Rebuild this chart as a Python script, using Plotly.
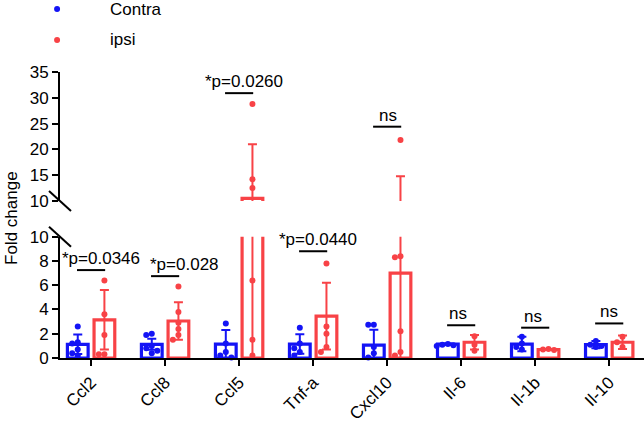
import plotly.graph_objects as go

FONT = "Arial, Liberation Sans, sans-serif"
BLUE = "rgb(20,20,245)"
RED = "rgb(248,66,70)"

categories = ["Ccl2", "Ccl8", "Ccl5", "Tnf-a", "Cxcl10", "Il-6", "Il-1b", "Il-10"]

contra_mean = [1.13, 1.13, 1.15, 1.15, 1.07, 1.15, 1.15, 1.10]
contra_sd = [0.80, 0.45, 1.15, 0.80, 1.25, 0.05, 0.60, 0.30]
ipsi_mean = [3.15, 3.05, 10.5, 3.45, 7.0, 1.30, 0.70, 1.30]
ipsi_sd = [2.45, 1.55, 10.5, 2.75, 7.8, 0.60, 0.05, 0.55]

contra_pts = [
    [2.6, 1.3, 1.2, 0.7, 0.4, 0.2],
    [2.0, 1.9, 1.0, 0.8, 0.6, 0.4],
    [2.85, 1.2, 0.5, 0.2, 0.05],
    [2.5, 1.2, 0.8, 0.5, 0.2],
    [2.75, 2.75, 0.9, 0.4, 0.05],
    [1.15, 1.1, 1.05, 1.0],
    [1.75, 1.2, 0.9, 0.7],
    [1.4, 1.1, 1.0, 0.9],
]
ipsi_pts = [
    [6.4, 3.6, 1.9, 0.3, 0.3],
    [5.9, 3.8, 2.9, 2.4, 1.9, 1.5],
    [28.8, 14.2, 12.5, 6.4, 1.5, 0.2],
    [7.8, 2.6, 2.0, 0.9, 0.5],
    [21.8, 8.4, 8.3, 2.2, 0.5, 0.2],
    [1.8, 1.1, 0.6],
    [0.75, 0.7, 0.65],
    [1.75, 1.3, 0.9],
]

sig_text = ["*p=0.0346", "*p=0.028", "*p=0.0260", "*p=0.0440", "ns", "ns", "ns", "ns"]
sig_y = [7.25, 6.75, 30.9, 8.8, 24.4, 2.7, 2.5, 2.85]

BREAK = 10
OFF = 0.18      # half distance between the two bars of a group
BAR_W = 0.28
LABEL_NUDGE = [10, 19, 5, 5, 1, -3, -2, 0]  # px, text placement over brackets


def to_px(v):
    # rough pixel height, only used to spread overlapping dots
    return 12.1 * v if v <= BREAK else 12.1 * BREAK + 36 + 5.16 * (v - BREAK)


def spread(vals, step=0.075, min_px=5.5):
    placed, out = [], []
    for v in vals:
        py = to_px(v)
        for c in (0, -step, step, -2 * step, 2 * step):
            if all(abs(py - pp) >= min_px or abs(c - oc) > step * 0.9 for pp, oc in placed):
                break
        placed.append((py, c))
        out.append(c)
    return out


fig = go.Figure()

series = [
    ("Contra", contra_mean, contra_sd, contra_pts, -OFF, BLUE),
    ("ipsi", ipsi_mean, ipsi_sd, ipsi_pts, OFF, RED),
]

for name, mean, sd, pts, off, col in series:
    xs = [i + off for i in range(len(categories))]
    for yax in ("y", "y2"):
        fig.add_trace(go.Bar(
            x=xs, y=mean, width=BAR_W, yaxis=yax, name=name, showlegend=False,
            marker=dict(color="rgba(0,0,0,0)", line=dict(color=col, width=3.2)),
            error_y=dict(type="data", array=sd, visible=True, color=col,
                         thickness=2, width=4.5),
            hoverinfo="skip",
        ))
    # dots, split by segment of the broken axis
    lo_x, lo_y, hi_x, hi_y = [], [], [], []
    for i, vals in enumerate(pts):
        for v, dx in zip(vals, spread(vals)):
            if v <= BREAK:
                lo_x.append(i + off + dx)
                lo_y.append(v)
            else:
                hi_x.append(i + off + dx)
                hi_y.append(v)
    for xx, yy, yax in ((lo_x, lo_y, "y"), (hi_x, hi_y, "y2")):
        fig.add_trace(go.Scatter(
            x=xx, y=yy, yaxis=yax, mode="markers", showlegend=False,
            marker=dict(color=col, size=6), cliponaxis=False,
        ))

# significance brackets
shapes, annots = [], []
for i, (txt, yv) in enumerate(zip(sig_text, sig_y)):
    yref = "y2" if yv > BREAK else "y"
    shapes.append(dict(type="line", xref="x", yref=yref, x0=i - 0.19, x1=i + 0.19,
                       y0=yv, y1=yv, line=dict(color="black", width=2)))
    annots.append(dict(x=i, y=yv, xref="x", yref=yref, text=txt, showarrow=False,
                       yanchor="bottom", xshift=LABEL_NUDGE[i],
                       font=dict(family=FONT, size=17, color="black")))

# axis break slashes
for yref, anchor in (("y domain", 1), ("y2 domain", 0)):
    shapes.append(dict(type="line", xref="paper", yref=yref,
                       xsizemode="pixel", ysizemode="pixel",
                       xanchor=0, yanchor=anchor, x0=-11, x1=11, y0=10, y1=-10,
                       line=dict(color="black", width=2)))

# legend
for label, col, ypos in (("Contra", BLUE, 1.220), ("ipsi", RED, 1.112)):
    shapes.append(dict(type="circle", xref="paper", yref="paper",
                       xsizemode="pixel", ysizemode="pixel",
                       xanchor=-0.005, yanchor=ypos, x0=-3, x1=3, y0=-3, y1=3,
                       fillcolor=col, line=dict(width=0)))
    annots.append(dict(x=0.082, y=ypos, xref="paper", yref="paper", text=label,
                       showarrow=False, xanchor="left", yanchor="middle",
                       font=dict(family=FONT, size=17, color="black")))

annots.append(dict(x=-0.082, y=0.49, xref="paper", yref="paper", text="Fold change",
                   textangle=-90, showarrow=False, xanchor="center", yanchor="middle",
                   font=dict(family=FONT, size=17, color="black")))

axis_common = dict(showline=True, linewidth=2, linecolor="black", ticks="outside",
                   ticklen=6, tickwidth=2, tickcolor="black", showgrid=False,
                   zeroline=False, tickfont=dict(family=FONT, size=17, color="black"))

fig.update_layout(
    width=644, height=422,
    margin=dict(l=60, r=0, t=72, b=64),
    paper_bgcolor="white", plot_bgcolor="white",
    barmode="overlay", showlegend=False,
    xaxis=dict(range=[-0.42, 7.47], tickvals=list(range(len(categories))),
               ticktext=categories, tickangle=-45, **axis_common),
    yaxis=dict(domain=[0, 0.424], range=[0, 10], tickvals=[0, 2, 4, 6, 8, 10],
               anchor="x", **axis_common),
    yaxis2=dict(domain=[0.549, 1], range=[10, 35], tickvals=[10, 15, 20, 25, 30, 35],
                anchor="x", **axis_common),
    shapes=shapes, annotations=annots,
    font=dict(family=FONT, size=17, color="black"),
)

# page has a default 8px body margin; drop it so the figure fills the window
fig.write_html("out.html", config={"displayModeBar": False},
               post_script="document.body.style.margin='0px';")
